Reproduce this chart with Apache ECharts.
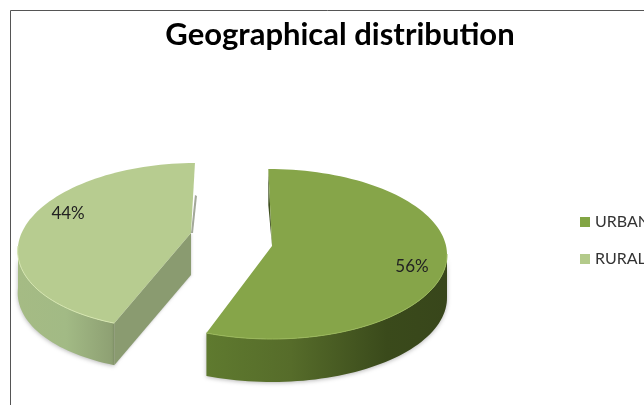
<!DOCTYPE html>
<html>
<head>
<meta charset="utf-8">
<style>html,body{margin:0;padding:0;background:#fff}#c{width:644px;height:405px}</style>
<script src="https://cdn.jsdelivr.net/npm/echarts@6/dist/echarts.min.js"></script>
</head>
<body>
<div id="c"></div>
<script>
var categories = ['URBAN', 'RURAL'];
var values = [56, 44];
var chartTitle = 'Geographical distribution';

var total = values[0] + values[1];
var G = echarts.graphic;
function grad(stops) {
  return new G.LinearGradient(0, 0, 1, 0, stops.map(function (s) { return { offset: s[0], color: s[1] }; }));
}
var looks = [
  { cx: 270, cy: 254, rx: 177, ry: 85, shear: 0.02, apexDx: 2, apexDy: -8, depth: 43,
    top: '#86a549', rim: '#9ab85a', labelAngle: 100.8, labelR: 0.815,
    legend: '#82a544',
    wall: grad([[0, '#5f7a2f'], [0.35, '#566c2a'], [0.75, '#3a4a1b'], [1, '#38461b']]),
    sliver: '#3f5020', faceWall: null },
  { cx: 185, cy: 246, rx: 167, ry: 83, shear: -0.12, apexDx: 6, apexDy: -13, depth: 42,
    top: '#b7cc90', rim: '#d6e6b0', labelAngle: 298.1, labelR: 0.82,
    legend: '#b3ca8a',
    wall: grad([[0, '#a5bb84'], [0.5, '#a2ba85'], [1, '#8d9f72']]),
    sliver: '#a3a89a', faceWall: '#8a9b70' }
];

function pt(L, deg, dy) {
  var a = deg * Math.PI / 180;
  var y = -Math.cos(a) * L.ry;
  return [L.cx + Math.sin(a) * L.rx + L.shear * y, L.cy + y + (dy || 0)];
}
function arc(L, from, to, dy) {
  var out = [], n = Math.max(2, Math.ceil(Math.abs(to - from) / 2));
  for (var i = 0; i <= n; i++) out.push(pt(L, from + (to - from) * i / n, dy));
  return out;
}

function makeRender(idx) {
  return function (params, api) {
    var L = looks[idx];
    var v = api.value(0);
    var startDeg = idx === 0 ? 0 : values[0] / total * 360;
    var endDeg = startDeg + v / total * 360;
    var apex = [L.cx + L.apexDx, L.cy + L.apexDy];
    var kids = [];
    // front rim wall: only the part of the slice that faces the viewer
    var wf = Math.max(startDeg, 90), wt = Math.min(endDeg, 270);
    var rim = arc(L, wf, wt, 0);
    var wallPts = rim.concat(arc(L, wt, wf, L.depth));
    kids.push({ type: 'polygon', shape: { points: wallPts },
      style: { fill: L.wall, shadowBlur: 4, shadowColor: 'rgba(0,0,0,0.28)', shadowOffsetY: 1 } });
    // cut faces
    var s = pt(L, startDeg), e = pt(L, endDeg);
    if (L.faceWall) {
      kids.push({ type: 'polygon', shape: { points: [s, apex, [apex[0], apex[1] + L.depth], [s[0], s[1] + L.depth]] },
        style: { fill: L.faceWall, shadowBlur: 3, shadowColor: 'rgba(0,0,0,0.25)' } });
      kids.push({ type: 'polygon', shape: { points: [[e[0], e[1] + 32], [e[0] + 2, e[1] + 33], [apex[0] + 2, apex[1]], apex] },
        style: { fill: L.sliver } });
    } else {
      kids.push({ type: 'polygon', shape: { points: [s, [s[0], s[1] + 36], apex] }, style: { fill: L.sliver } });
    }
    // top surface
    var topPts = arc(L, startDeg, endDeg, 0).concat([apex]);
    kids.push({ type: 'polygon', shape: { points: topPts }, style: { fill: L.top } });
    // lit front edge
    kids.push({ type: 'polyline', shape: { points: rim },
      style: { fill: null, stroke: L.rim, lineWidth: 1 } });
    // percent label
    var lp = pt({ cx: L.cx, cy: L.cy, rx: L.rx * L.labelR, ry: L.ry * L.labelR, shear: L.shear }, L.labelAngle);
    kids.push({ type: 'text', style: { x: lp[0], y: lp[1], text: Math.round(v) + '%',
      font: '17px Lato, "Open Sans", sans-serif', fill: '#222', align: 'center', verticalAlign: 'middle' } });
    return { type: 'group', children: kids };
  };
}

var chart = echarts.init(document.getElementById('c'), null, { renderer: 'canvas' });
chart.setOption({
  animation: false,
  backgroundColor: '#ffffff',
  title: { text: chartTitle, left: 335, top: 14, textAlign: 'center',
    textStyle: { fontFamily: 'Lato', fontWeight: 'bold', fontSize: 31, color: '#000' } },
  legend: { orient: 'vertical', left: 575, top: 209, itemWidth: 10, itemHeight: 10, itemGap: 21,
    icon: 'rect', data: categories, selectedMode: false, itemStyle: { borderWidth: 0 },
    textStyle: { fontFamily: 'Lato', fontSize: 16, color: '#333' } },
  graphic: [
    { type: 'polyline', silent: true, shape: { points: [[10.5, 405], [10.5, 10.5], [644, 10.5]] },
      style: { fill: null, stroke: '#555', lineWidth: 1 } }
  ],
  series: categories.map(function (name, i) {
    return { type: 'custom', name: name, coordinateSystem: 'none', renderItem: makeRender(i),
      data: [[values[i]]], itemStyle: { color: looks[i].legend }, silent: true };
  })
});
</script>
</body>
</html>
